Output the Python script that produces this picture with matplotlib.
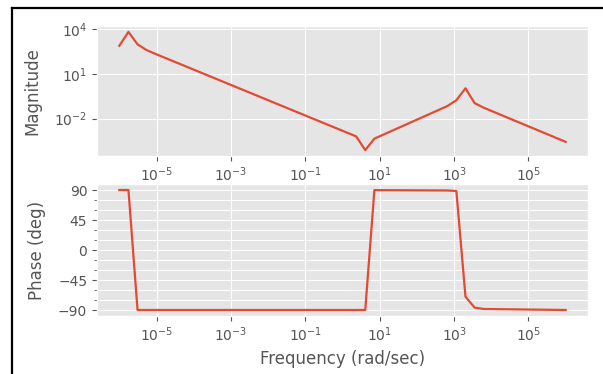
import matplotlib
matplotlib.use('Agg')
import matplotlib.pyplot as plt
from matplotlib.lines import Line2D
from matplotlib.ticker import MultipleLocator, NullLocator
plt.style.use('ggplot')

# magnitude curve (corner points)
mag_freq = [1.0e-6, 1.76e-6, 3.09e-6, 5.43e-6, 9.55e-6, 2.33, 4.09, 7.20,
            655, 1151, 2024, 3556, 6251, 1.0e6]
mag_vals = [741, 6310, 933, 380, 209, 6.5e-4, 7.9e-5, 4.6e-4,
            0.069, 0.17, 1.07, 0.11, 0.054, 2.8e-4]

# phase curve
phase_freq = [1.0e-6, 1.76e-6, 3.09e-6, 4.09, 7.20, 655, 1151, 2024, 3556, 6251, 1.0e6]
phase_vals = [90, 90, -90, -90, 89.8, 89.3, 88.5, -70, -86.4, -88.5, -90]

W, H = 603, 374
fig = plt.figure(figsize=(W / 100, H / 100), dpi=100)
fig.patch.set_facecolor('white')

ax_mag = fig.add_axes([97 / W, 1 - 156 / H, 491 / W, 130 / H])
ax_ph = fig.add_axes([97 / W, 1 - 316 / H, 491 / W, 132 / H])

ax_mag.loglog(mag_freq, mag_vals, lw=1.6)
ax_mag.set_ylabel('Magnitude', labelpad=9)
ax_mag.set_yticks([1e-2, 1e1, 1e4])
ax_mag.minorticks_off()

ax_ph.semilogx(phase_freq, phase_vals, lw=1.6)
ax_ph.set_ylabel('Phase (deg)', labelpad=9)
ax_ph.set_xlabel('Frequency (rad/sec)')
ax_ph.yaxis.set_major_locator(MultipleLocator(45))
ax_ph.yaxis.set_minor_locator(MultipleLocator(15))
ax_ph.grid(True, which='both', axis='y', color='white')
ax_ph.tick_params(axis='y', which='minor', length=2, color='#555555')

for ax in (ax_mag, ax_ph):
    ax.set_xticks([1e-5, 1e-3, 1e-1, 1e1, 1e3, 1e5])
    ax.xaxis.set_minor_locator(NullLocator())

# screenshot frame
x0 = 12 / W
y0 = 1 - 8 / H
fig.add_artist(Line2D([x0, x0], [0, y0], color='black', lw=1.6))
fig.add_artist(Line2D([x0, 1], [y0, y0], color='black', lw=1.6))

fig.savefig('out.png', dpi=100)
